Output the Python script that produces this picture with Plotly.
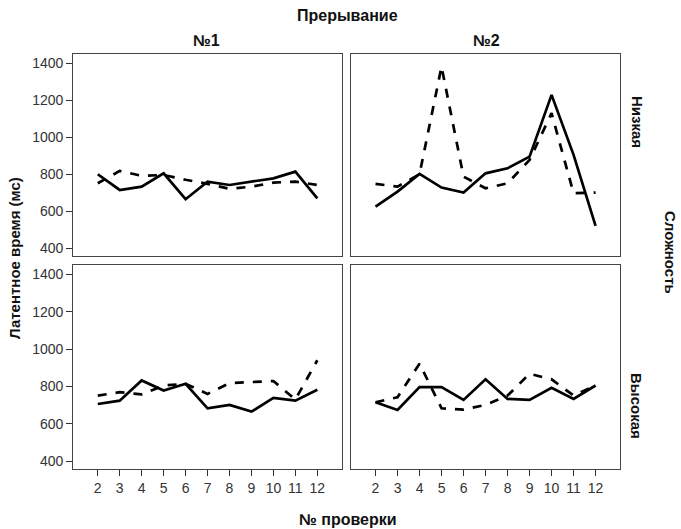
import plotly.graph_objects as go

checks = [2, 3, 4, 5, 6, 7, 8, 9, 10, 11, 12]

# Сложность: Низкая, Прерывание: №1
low1_solid = [800, 715, 733, 805, 665, 760, 742, 760, 778, 814, 670]
low1_dash = [751, 818, 791, 796, 770, 748, 721, 733, 755, 760, 742]
# Низкая, №2
low2_solid = [625, 706, 802, 728, 701, 805, 832, 895, 1229, 905, 521]
low2_dash = [748, 733, 800, 1382, 787, 724, 751, 877, 1130, 697, 701]
# Высокая, №1
high1_solid = [706, 724, 832, 778, 814, 683, 701, 665, 739, 724, 782]
high1_dash = [751, 769, 757, 805, 814, 760, 818, 823, 829, 730, 940]
# Высокая, №2
high2_solid = [715, 674, 796, 796, 728, 838, 733, 728, 793, 733, 805]
high2_dash = [715, 742, 922, 683, 676, 701, 751, 868, 838, 751, 805]

y_ticks = [400, 600, 800, 1000, 1200, 1400]

W, H = 681, 529
xd = [[73.3 / W, 341.7 / W], [351 / W, 620 / W]]
yd = [[1 - 469 / H, 1 - 265 / H], [1 - 256 / H, 1 - 54 / H]]

fig = go.Figure()

panels = [
    (low1_solid, low1_dash, 0, 1),
    (low2_solid, low2_dash, 1, 1),
    (high1_solid, high1_dash, 0, 0),
    (high2_solid, high2_dash, 1, 0),
]

font = dict(family="Liberation Sans, Arial, sans-serif", size=12, color="#222")
tickfont = dict(family="Liberation Sans, Arial, sans-serif", size=14, color="#333")

for i, (s, d, col, row) in enumerate(panels):
    n = i + 1
    xa = "x" if n == 1 else f"x{n}"
    ya = "y" if n == 1 else f"y{n}"
    fig.add_trace(go.Scatter(x=checks, y=d, mode="lines", xaxis=xa, yaxis=ya,
                             line=dict(color="black", width=2.7, dash="dash"),
                             showlegend=False, hoverinfo="skip"))
    fig.add_trace(go.Scatter(x=checks, y=s, mode="lines", xaxis=xa, yaxis=ya,
                             line=dict(color="black", width=2.7),
                             showlegend=False, hoverinfo="skip"))
    key_x = "xaxis" if n == 1 else f"xaxis{n}"
    key_y = "yaxis" if n == 1 else f"yaxis{n}"
    fig.layout[key_x] = dict(
        domain=xd[col], anchor=ya, range=[0.886, 13.11],
        tickvals=checks, ticktext=[str(c) for c in checks],
        showticklabels=(row == 0), ticks="outside" if row == 0 else "",
        ticklen=6, tickcolor="#333", tickwidth=1,
        showgrid=False, zeroline=False,
        showline=True, mirror=True, linecolor="#444", linewidth=1.2,
        tickfont=tickfont,
    )
    fig.layout[key_y] = dict(
        domain=yd[row], anchor=xa, range=[358, 1450],
        tickvals=y_ticks, ticktext=[str(v) for v in y_ticks],
        showticklabels=(col == 0), ticks="outside" if col == 0 else "",
        ticklen=6, tickcolor="#333", tickwidth=1,
        showgrid=False, zeroline=False,
        showline=True, mirror=True, linecolor="#444", linewidth=1.2,
        tickfont=tickfont,
    )

bold15 = dict(family="Liberation Sans, Arial, sans-serif", size=15, color="#111")
bold16 = dict(family="Liberation Sans, Arial, sans-serif", size=16, color="#111")
ann = [
    dict(text="<b>Прерывание</b>", x=347 / W, y=1 - 16 / H, font=bold16),
    dict(text="<b>№1</b>", x=206 / W, y=1 - 41 / H, font=bold16),
    dict(text="<b>№2</b>", x=486 / W, y=1 - 41 / H, font=bold16),
    dict(text="<b>№ проверки</b>", x=348 / W, y=1 - 519 / H, font=bold16),
    dict(text="<b>Латентное время (мс)</b>", x=14 / W, y=1 - 258 / H, textangle=-90, font=bold15),
    dict(text="<b>Низкая</b>", x=637 / W, y=1 - 122 / H, textangle=90, font=bold15),
    dict(text="<b>Высокая</b>", x=637 / W, y=1 - 406 / H, textangle=90, font=bold15),
    dict(text="<b>Сложность</b>", x=671 / W, y=1 - 252 / H, textangle=90, font=bold15),
]
fig.update_layout(annotations=[dict(a, xref="paper", yref="paper", showarrow=False,
                                    xanchor="center", yanchor="middle") for a in ann])

fig.update_layout(width=W, height=H, margin=dict(l=0, r=0, t=0, b=0),
                  paper_bgcolor="white", plot_bgcolor="white", font=font)

fig.write_html("out.html", config={"displayModeBar": False},
               post_script="document.body.style.margin='0';document.body.style.overflow='hidden';")
